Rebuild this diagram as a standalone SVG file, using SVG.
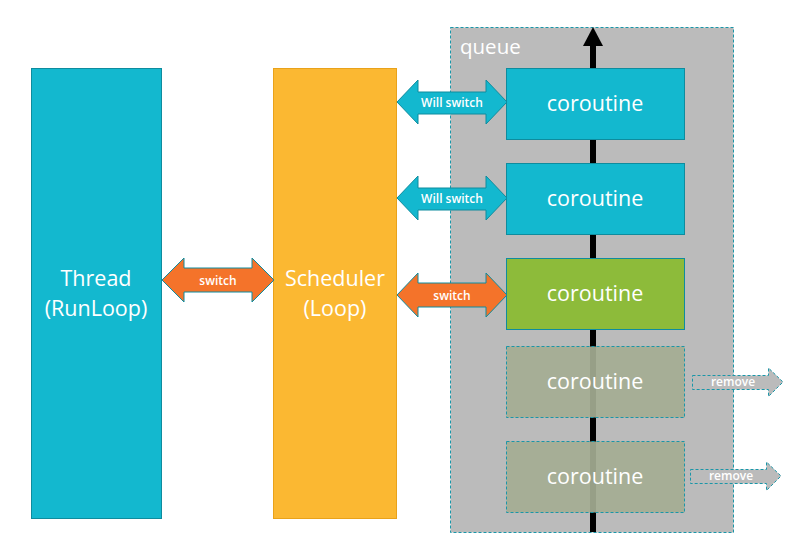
<svg xmlns="http://www.w3.org/2000/svg" width="803" height="559" viewBox="0 0 803 559">
<style>
text{font-family:"Open Sans","Noto Sans",sans-serif;fill:#fff;text-anchor:middle}
.big{font-size:21.5px}
.sm{font-size:12px;font-weight:600}
.teal{fill:#13B8CF;stroke:#0E8C9E;stroke-width:1}
.cor{fill:#13B8CF;stroke:#0E8C9E;stroke-width:1}
.faded{fill:#A4AC93;fill-opacity:0.92;stroke:#1A96A8;stroke-width:1;stroke-dasharray:3,2}
.orange{fill:#F4732A;stroke:#0E8C9E;stroke-width:1}
.rem{fill:#BBBBBB;stroke:#1A96A8;stroke-width:1;stroke-dasharray:3,2}
</style>
<rect width="803" height="559" fill="#fff"/>
<g id="queue">
<rect x="450.5" y="27.5" width="283" height="505" fill="#BBBBBB" stroke="#1A96A8" stroke-dasharray="3,2"/>
<text x="460" y="54" style="font-size:20.5px;text-anchor:start">queue</text>
</g>
<g id="queue-axis">
<rect x="590" y="45" width="6" height="487" fill="#000"/>
<polygon points="583,46 593,27 603,46" fill="#000"/>
</g>
<g id="thread">
<rect x="31.5" y="68.5" width="130" height="450" class="teal"/>
<text class="big" x="96" y="286">Thread</text>
<text class="big" x="96" y="316">(RunLoop)</text>
</g>
<g id="scheduler">
<rect x="273.5" y="68.5" width="123" height="450" fill="#FBB832" stroke="#E9A21A"/>
<text class="big" x="335" y="286">Scheduler</text>
<text class="big" x="335" y="316">(Loop)</text>
</g>
<g id="coroutine1">
<rect x="506.5" y="68.5" width="178" height="71" class="cor"/>
<text class="big" x="595" y="111">coroutine</text>
</g>
<g id="coroutine2">
<rect x="506.5" y="163.5" width="178" height="71" class="cor"/>
<text class="big" x="595" y="206">coroutine</text>
</g>
<g id="coroutine3">
<rect x="506.5" y="258.5" width="178" height="71" fill="#8DBB3A" stroke="#0E8C9E"/>
<text class="big" x="595" y="301">coroutine</text>
</g>
<g id="coroutine4">
<rect x="506.5" y="346.5" width="178" height="71" class="faded"/>
<text class="big" x="595" y="389">coroutine</text>
</g>
<g id="coroutine5">
<rect x="506.5" y="441.5" width="178" height="71" class="faded"/>
<text class="big" x="595" y="484">coroutine</text>
</g>
<g id="connectors">
<g id="will-switch-1">
<polygon class="teal" points="397,102 418,80 418,92 486,92 486,80 507,102 486,124 486,114 418,114 418,124"/>
<text class="sm" x="452" y="107">Will switch</text>
</g>
<g id="will-switch-2">
<polygon class="teal" points="397,198 418,176 418,188 486,188 486,176 507,198 486,220 486,210 418,210 418,220"/>
<text class="sm" x="452" y="203">Will switch</text>
</g>
<g id="switch-thread">
<polygon class="orange" points="162,280 184,258 184,268 252,268 252,258 274,280 252,302 252,292 184,292 184,302"/>
<text class="sm" x="218" y="285">switch</text>
</g>
<g id="switch-coroutine">
<polygon class="orange" points="397,295 418,273 418,283 486,283 486,273 507,295 486,317 486,307 418,307 418,317"/>
<text class="sm" x="452" y="300">switch</text>
</g>
<g id="remove-1">
<polygon class="rem" points="692.5,375.5 768.5,375.5 768.5,368 783,382 768.5,396.5 768.5,389.5 692.5,389.5"/>
<text class="sm" x="733" y="386">remove</text>
</g>
<g id="remove-2">
<polygon class="rem" points="690.5,469.5 766.5,469.5 766.5,462 781,476 766.5,490.5 766.5,483.5 690.5,483.5"/>
<text class="sm" x="731" y="480">remove</text>
</g>
</g>
</svg>
